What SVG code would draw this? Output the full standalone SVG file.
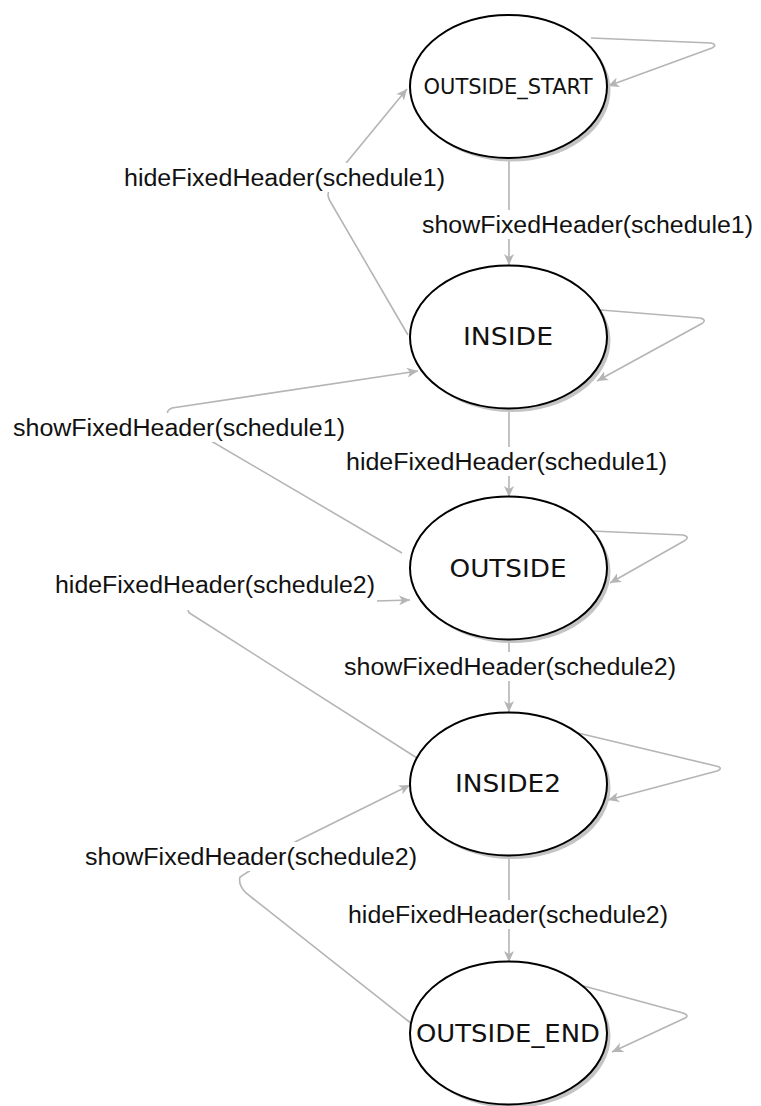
<svg xmlns="http://www.w3.org/2000/svg" width="761" height="1106" viewBox="0 0 761 1106">
<style>
.edge{fill:none;stroke:#b5b5b5;stroke-width:1.6}
.lbl{font-family:"Liberation Sans",Arial,sans-serif;font-size:23px;fill:#111}
.lbg{fill:#fff}
.shadow{fill:#c4c4c4}
.node{fill:#fff;stroke:#000;stroke-width:2}
.ntxt{font-family:"DejaVu Sans",Verdana,sans-serif;fill:#111;text-anchor:middle}
</style>
<defs>
<marker id="arr" markerUnits="userSpaceOnUse" markerWidth="12" markerHeight="10" refX="11" refY="5" orient="auto">
<path d="M0,0 L11,5 L0,10 L3,5 z" fill="#b5b5b5"/>
</marker>
</defs>
<g id="connectors">
<path class="edge" d="M591,38 L711,43 Q718,45 712,48 L608,86" marker-end="url(#arr)"/>
<path class="edge" d="M408,335 L330,201 Q326,194 330,189 L347,162 L407,89" marker-end="url(#arr)"/>
<path class="edge" d="M509,159 L509,265" marker-end="url(#arr)"/>
<path class="edge" d="M601,310 L700,318 Q708,320 701,324 L597,381" marker-end="url(#arr)"/>
<path class="edge" d="M402,553 L172,418 Q163,412 172,408 L418,371" marker-end="url(#arr)"/>
<path class="edge" d="M509,409 L509,497" marker-end="url(#arr)"/>
<path class="edge" d="M592,531 L683,535 Q691,537 684,541 L610,583" marker-end="url(#arr)"/>
<path class="edge" d="M417,758 L191,614 Q184,609 194,607 L376,601 L410,600" marker-end="url(#arr)"/>
<path class="edge" d="M509,638 L509,712" marker-end="url(#arr)"/>
<path class="edge" d="M578,733 L716,766 Q724,768 717,771 L608,800" marker-end="url(#arr)"/>
<path class="edge" d="M412,1024 L246,893 Q238,885 240,877 L295,842 L410,785" marker-end="url(#arr)"/>
<path class="edge" d="M509,856 L509,962" marker-end="url(#arr)"/>
<path class="edge" d="M580,985 L683,1013 Q691,1016 683,1019 L612,1052" marker-end="url(#arr)"/>
<rect class="lbg" x="122" y="163" width="326" height="29"/>
<text class="lbl" x="124" y="186" textLength="321" lengthAdjust="spacingAndGlyphs">hideFixedHeader(schedule1)</text>
<rect class="lbg" x="420" y="210" width="335" height="29"/>
<text class="lbl" x="422" y="233" textLength="331" lengthAdjust="spacingAndGlyphs">showFixedHeader(schedule1)</text>
<rect class="lbg" x="11" y="413" width="336" height="29"/>
<text class="lbl" x="13" y="436" textLength="332" lengthAdjust="spacingAndGlyphs">showFixedHeader(schedule1)</text>
<rect class="lbg" x="344" y="447" width="326" height="29"/>
<text class="lbl" x="346" y="470" textLength="321" lengthAdjust="spacingAndGlyphs">hideFixedHeader(schedule1)</text>
<rect class="lbg" x="53" y="570" width="324" height="40"/>
<text class="lbl" x="55" y="593" textLength="320" lengthAdjust="spacingAndGlyphs">hideFixedHeader(schedule2)</text>
<rect class="lbg" x="342" y="652" width="336" height="29"/>
<text class="lbl" x="344" y="675" textLength="332" lengthAdjust="spacingAndGlyphs">showFixedHeader(schedule2)</text>
<rect class="lbg" x="83" y="842" width="336" height="29"/>
<text class="lbl" x="85" y="865" textLength="332" lengthAdjust="spacingAndGlyphs">showFixedHeader(schedule2)</text>
<rect class="lbg" x="346" y="900" width="324" height="29"/>
<text class="lbl" x="348" y="923" textLength="320" lengthAdjust="spacingAndGlyphs">hideFixedHeader(schedule2)</text>
</g>
<g id="node-outside-start">
<ellipse class="shadow" cx="512" cy="90" rx="98.5" ry="71.5"/>
<ellipse class="node" cx="508.5" cy="86.5" rx="98.5" ry="71.5"/>
<text class="ntxt" x="508" y="94" font-size="21">OUTSIDE_START</text>
</g>
<g id="node-inside">
<ellipse class="shadow" cx="512" cy="340.5" rx="98.5" ry="71.5"/>
<ellipse class="node" cx="508.5" cy="337" rx="98.5" ry="71.5"/>
<text class="ntxt" x="508" y="345" font-size="24" textLength="90" lengthAdjust="spacingAndGlyphs">INSIDE</text>
</g>
<g id="node-outside">
<ellipse class="shadow" cx="512" cy="571.5" rx="98.5" ry="71.5"/>
<ellipse class="node" cx="508.5" cy="568" rx="98.5" ry="71.5"/>
<text class="ntxt" x="508" y="577" font-size="24" textLength="117" lengthAdjust="spacingAndGlyphs">OUTSIDE</text>
</g>
<g id="node-inside2">
<ellipse class="shadow" cx="512" cy="787.5" rx="98.5" ry="71.5"/>
<ellipse class="node" cx="508.5" cy="784" rx="98.5" ry="71.5"/>
<text class="ntxt" x="508" y="792" font-size="24" textLength="106" lengthAdjust="spacingAndGlyphs">INSIDE2</text>
</g>
<g id="node-outside-end">
<ellipse class="shadow" cx="512" cy="1036.5" rx="98.5" ry="71.5"/>
<ellipse class="node" cx="508.5" cy="1033" rx="98.5" ry="71.5"/>
<text class="ntxt" x="508" y="1042" font-size="24" textLength="184" lengthAdjust="spacingAndGlyphs">OUTSIDE_END</text>
</g>
</svg>
